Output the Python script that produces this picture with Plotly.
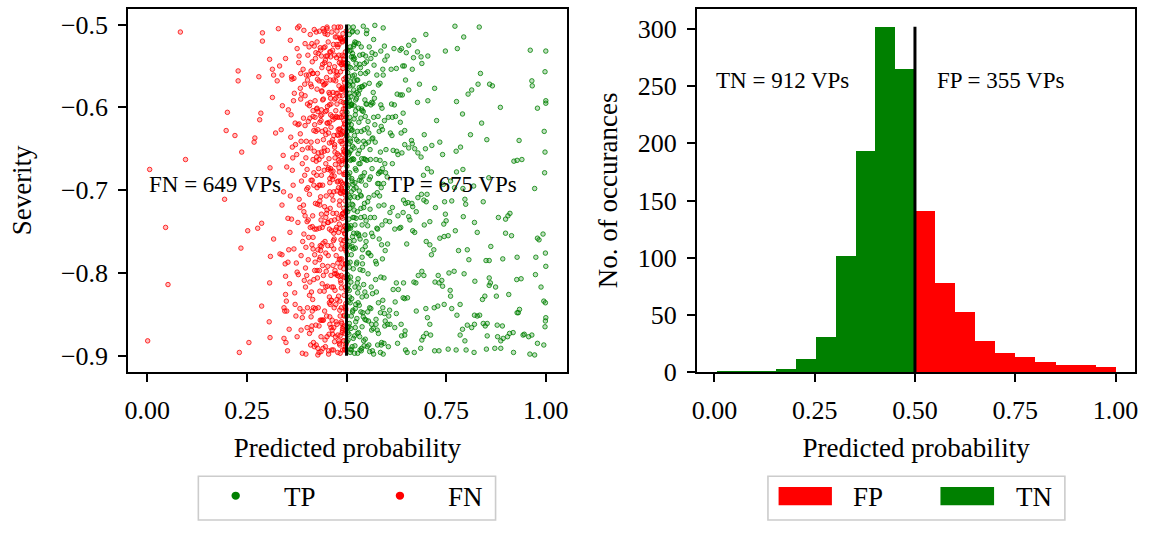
import plotly.graph_objects as go

# ---------------------------------------------------------------------------
# Positive VPs: (predicted probability, |severity|), both in thousandths.
# Severity is plotted as a negative value.
# ---------------------------------------------------------------------------
fn_points_sparse = [
    (6, 675), (1, 882), (83, 509), (96, 663), (46, 745), (52, 814), (228, 556), (228, 568), (280, 563), (201, 606),
    (198, 628), (220, 634), (237, 654), (289, 510), (289, 520), (307, 542), (268, 642), (270, 637), (285, 607), (282, 615),
    (314, 588), (322, 631), (308, 673), (194, 711), (235, 770), (252, 749), (277, 746), (287, 740), (255, 884), (231, 896),
    (287, 840), (307, 812), (306, 859), (308, 878), (309, 780), (317, 759), (333, 777), (348, 884), (347, 826), (343, 842),
    (350, 846), (347, 804), (353, 787), (338, 778), (329, 505), (332, 550), (314, 554), (317, 561), (326, 568), (338, 561),
]

fn_points_dense = [
    (452, 512), (391, 847), (487, 633), (468, 771), (342, 702), (415, 559), (497, 889), (433, 618), (476, 524), (404, 736),
    (461, 803), (489, 577), (372, 645), (428, 891), (495, 702), (447, 543), (386, 779), (471, 661), (419, 506), (483, 834),
    (437, 729), (499, 611), (356, 868), (409, 594), (464, 857), (492, 749), (425, 682), (451, 505), (381, 538), (478, 896),
    (444, 653), (486, 548), (367, 592), (412, 823), (458, 702), (496, 771), (398, 661), (473, 589), (431, 864), (490, 517),
    (466, 615), (353, 734), (481, 882), (422, 541), (449, 798), (393, 507), (494, 654), (439, 569), (475, 745), (407, 873),
    (488, 691), (457, 836), (378, 621), (416, 757), (469, 503), (498, 843), (435, 708), (402, 596), (482, 626), (446, 881),
    (362, 563), (491, 728), (427, 806), (470, 537), (453, 675), (389, 854), (499, 581), (441, 764), (411, 642), (479, 503),
    (455, 894), (493, 616), (346, 789), (418, 679), (484, 542), (463, 817), (396, 731), (438, 552), (497, 768), (426, 601),
    (474, 859), (384, 577), (487, 697), (448, 633), (359, 519), (432, 746), (495, 893), (460, 589), (408, 811), (480, 664),
    (443, 528), (498, 725), (371, 838), (421, 612), (467, 761), (490, 586), (400, 699), (456, 874), (485, 503), (429, 655),
    (477, 803), (336, 627), (492, 547), (413, 766), (451, 619), (488, 861), (395, 572), (466, 712), (436, 895), (496, 639),
    (459, 557), (383, 721), (482, 784), (424, 509), (470, 648), (499, 821), (442, 590), (364, 676), (489, 729), (417, 842),
    (434, 781), (494, 663), (403, 537), (472, 877), (450, 604), (376, 799), (486, 518), (439, 745), (463, 683), (492, 882),
    (420, 621), (481, 574), (352, 894), (457, 829), (497, 706), (410, 649), (446, 511), (484, 793), (392, 613), (468, 556),
    (491, 657), (445, 846), (369, 583), (427, 717), (479, 627), (499, 508), (416, 771), (458, 686), (437, 538), (486, 812),
    (398, 898), (473, 604), (495, 752), (431, 663), (454, 521), (341, 658), (488, 699), (412, 575), (467, 893), (482, 741),
    (448, 776), (497, 547), (387, 689), (462, 833), (425, 602), (490, 629), (358, 751), (476, 515), (440, 857), (493, 795),
    (406, 527), (484, 876), (452, 652), (379, 802), (498, 594), (433, 713), (470, 551), (419, 889), (489, 664), (461, 737),
    (444, 508), (396, 622), (478, 788), (494, 852), (423, 534), (465, 687), (349, 834), (487, 612), (437, 768), (499, 703),
    (456, 582), (414, 744), (483, 666), (368, 565), (471, 821), (492, 546), (428, 899), (447, 627), (400, 803), (480, 697),
    (496, 753), (438, 581), (461, 866), (389, 668), (485, 517), (421, 787), (453, 739), (377, 504), (492, 624), (469, 842),
    (430, 674), (498, 789), (411, 556), (474, 611), (343, 879), (458, 533), (487, 732), (402, 842), (449, 707), (495, 570),
    (466, 791), (384, 632), (490, 870), (426, 521), (477, 656), (439, 813), (497, 601), (362, 735), (455, 553), (482, 885),
    (418, 694), (493, 722), (445, 572), (371, 619), (481, 804), (460, 674), (399, 561), (489, 537), (434, 857), (472, 748),
    (499, 664), (452, 816), (407, 598), (486, 771), (424, 887), (463, 509), (338, 718), (494, 851), (442, 639), (478, 583),
    (415, 832), (484, 641), (457, 597), (393, 753), (496, 519), (436, 736), (470, 883), (380, 546), (491, 693), (448, 668),
    (475, 540), (428, 605), (497, 817), (365, 661), (462, 749), (409, 512), (488, 578), (441, 891), (483, 713), (455, 631),
    (401, 675), (492, 865), (467, 567), (432, 784), (354, 603), (480, 828), (420, 747), (498, 656), (446, 527), (386, 869),
    (489, 606), (459, 722), (413, 864), (476, 508), (440, 694), (495, 743), (374, 788), (465, 639), (427, 559), (484, 897),
    (450, 852), (396, 523), (493, 681), (437, 603), (471, 797), (422, 716), (499, 549), (360, 636), (486, 760), (458, 584),
    (479, 634), (433, 822), (490, 520), (405, 757), (464, 869), (385, 590), (496, 713), (445, 546), (418, 808), (481, 673),
    (468, 702), (497, 598), (425, 660), (347, 541), (487, 842), (453, 767), (410, 887), (474, 583), (439, 629), (494, 805),
    (392, 718), (460, 539), (483, 746), (431, 896), (499, 633), (448, 571), (370, 824), (477, 690), (416, 604), (490, 867),
    (443, 741), (485, 516), (402, 567), (469, 683), (495, 864), (426, 797), (457, 618), (381, 711), (491, 553), (436, 877),
    (498, 726), (451, 503), (414, 688), (482, 612), (363, 566), (473, 838), (435, 773), (492, 651), (397, 817), (461, 596),
    (488, 783), (429, 535), (466, 728), (389, 897), (496, 681), (444, 649), (474, 562), (408, 613), (484, 852), (355, 772),
    (457, 643), (493, 761), (420, 797), (478, 527), (438, 580), (499, 886), (403, 649), (467, 817), (376, 529), (486, 704),
    (427, 566), (482, 678), (454, 779), (391, 554), (497, 533), (442, 857), (471, 613), (415, 731), (489, 644), (463, 893),
    (435, 610), (494, 827), (461, 677), (339, 598), (480, 751), (449, 538), (404, 784), (490, 576), (424, 665), (476, 862),
    (496, 621), (445, 720), (383, 843), (470, 590), (432, 508), (485, 809), (418, 628), (458, 862), (499, 692), (366, 694),
    (474, 779), (410, 572), (488, 641), (452, 599), (393, 726), (493, 882), (437, 654), (465, 531), (381, 620), (482, 718),
    (447, 889), (498, 564), (422, 843), (468, 752), (359, 707), (486, 593), (434, 528), (477, 633), (401, 866), (491, 789),
    (463, 706), (428, 627), (495, 653), (387, 584), (457, 548), (483, 887), (440, 791), (414, 545), (472, 669), (499, 774),
    (450, 564), (490, 734), (398, 769), (476, 832), (431, 694), (345, 846), (485, 557), (460, 609), (419, 653), (496, 892),
    (481, 524), (437, 857), (468, 634), (407, 705), (492, 609), (454, 739), (375, 657), (487, 803), (426, 578), (473, 568),
    (498, 845), (444, 676), (413, 523), (479, 689), (390, 762), (465, 874), (436, 616), (493, 566), (453, 792), (361, 609),
    (471, 654), (425, 747), (489, 701), (448, 817), (399, 641), (494, 538), (459, 567), (417, 884), (484, 627), (440, 548),
    (462, 833), (496, 679), (381, 502), (434, 767), (476, 596), (411, 688), (487, 859), (451, 724), (368, 771), (492, 602),
    (429, 842), (483, 586), (456, 662), (497, 789), (404, 617), (470, 736), (441, 505), (488, 548), (394, 809), (466, 582),
    (499, 746), (447, 605), (416, 559), (478, 875), (433, 718), (491, 631), (458, 853), (376, 877), (485, 689), (420, 778),
    (472, 515), (438, 659), (495, 873), (407, 827), (464, 611), (386, 641), (489, 765), (451, 877), (482, 546), (426, 697),
    (457, 747), (497, 648), (442, 803), (412, 869), (475, 728), (350, 672), (490, 521), (461, 624), (396, 586), (484, 783),
    (435, 531), (493, 702), (468, 866), (423, 629), (481, 658), (446, 762), (498, 576), (403, 697), (455, 898), (479, 734),
    (389, 651), (487, 818), (452, 538), (416, 611), (470, 801), (496, 744), (431, 568), (463, 642), (373, 852), (492, 594),
    (444, 822), (484, 703), (409, 745), (475, 557), (498, 837), (438, 609), (460, 533), (395, 682), (489, 872), (427, 641),
    (466, 677), (493, 542), (421, 592), (450, 728), (357, 813), (486, 632), (432, 797), (477, 612), (499, 759), (405, 561),
    (483, 845), (443, 573), (497, 665), (414, 846), (458, 691), (378, 739), (491, 728), (467, 524), (428, 772), (474, 801),
    (453, 619), (490, 893), (401, 738), (437, 682), (481, 537), (462, 767), (495, 619), (419, 526), (470, 645), (385, 559),
    (496, 841), (448, 733), (476, 701), (411, 853), (488, 669), (440, 591), (364, 648), (459, 838), (492, 579), (423, 863),
    (478, 561), (434, 694), (499, 806), (455, 673), (397, 794), (486, 578), (469, 759), (416, 663), (491, 511),
]

tp_points_sparse = [
    (772, 502), (833, 503), (699, 512), (794, 515), (961, 531), (1000, 532), (748, 532), (778, 529), (998, 557), (836, 559),
    (965, 568), (966, 574), (830, 572), (859, 572), (866, 574), (721, 577), (683, 572), (814, 579), (805, 584), (886, 600),
    (776, 593), (1000, 592), (1000, 595), (979, 601), (704, 592), (678, 594), (791, 608), (726, 616), (839, 619), (811, 633),
    (852, 639), (933, 640), (996, 629), (998, 654), (997, 679), (920, 665), (928, 664), (940, 663), (775, 653), (786, 648),
    (734, 642), (741, 657), (714, 646), (695, 633), (792, 675), (776, 678), (857, 685), (819, 695), (972, 698),
    (656, 525), (669, 519), (678, 533), (668, 540), (687, 539), (689, 547), (704, 538), (665, 554), (648, 567), (656, 579),
    (635, 585), (627, 584), (640, 585), (612, 554), (625, 553), (641, 550), (645, 550), (619, 529), (634, 531), (638, 529),
    (650, 534), (602, 538), (613, 596), (620, 597), (642, 607), (623, 611), (615, 612), (605, 612), (635, 618), (646, 628),
    (637, 631), (610, 631), (614, 634), (663, 640), (665, 644), (671, 650), (656, 649), (698, 650), (646, 645), (639, 655),
    (629, 657), (626, 653), (617, 652), (679, 655), (687, 660), (703, 674), (713, 678), (693, 682), (615, 668), (596, 668),
    (590, 674), (586, 678), (602, 684), (580, 680), (771, 697), (792, 698), (743, 693), (761, 689),
    (643, 712), (654, 715), (664, 716), (679, 709), (694, 712), (700, 714), (702, 705), (688, 705), (675, 726), (666, 720),
    (656, 732), (659, 736), (666, 749), (671, 751), (629, 731), (615, 721), (609, 727), (642, 727), (648, 716), (633, 746),
    (636, 745), (621, 747), (608, 738), (603, 765), (651, 765), (700, 762), (709, 766), (695, 742), (709, 738), (723, 721),
    (744, 741), (748, 729), (750, 737), (734, 758), (755, 755), (773, 749), (745, 756), (797, 711), (799, 717), (793, 732),
    (764, 713), (746, 714), (719, 772), (713, 778), (781, 773), (803, 772), (807, 784), (821, 739), (828, 751), (843, 714),
    (862, 768), (850, 785), (858, 785), (881, 733), (899, 735), (905, 731), (910, 728), (899, 752), (914, 755), (892, 783),
    (928, 781), (975, 781), (979, 758), (983, 760), (993, 753), (999, 776), (1000, 792), (974, 802), (927, 808), (938, 807),
    (988, 817), (995, 834), (999, 836), (1000, 854), (999, 858), (998, 865), (995, 887), (972, 899), (960, 898), (979, 885),
    (965, 875), (957, 877), (946, 874), (943, 875), (934, 844), (931, 848), (928, 848), (918, 872), (909, 873), (904, 877),
    (893, 879), (887, 882), (879, 877), (872, 891), (887, 891), (919, 896), (891, 864), (878, 863), (853, 876), (853, 861),
    (843, 861), (848, 864), (828, 852), (821, 851), (834, 851), (851, 892), (820, 896), (800, 893), (775, 893), (755, 892),
    (732, 894), (721, 894), (797, 882), (791, 868), (785, 875), (803, 863), (814, 866), (821, 862), (841, 832), (847, 828),
    (858, 815), (861, 812), (858, 806), (874, 817), (876, 828), (907, 826), (822, 810), (795, 801), (770, 798), (757, 800),
    (739, 809), (732, 812), (722, 811), (741, 816), (761, 828), (760, 821), (785, 838), (777, 851), (764, 843), (745, 838),
    (729, 840), (720, 842), (699, 843), (703, 854), (709, 862), (700, 873), (711, 875), (693, 877), (689, 881), (686, 891),
    (675, 846), (674, 812), (680, 803), (689, 798), (694, 803), (730, 803), (669, 811), (643, 812), (642, 830), (646, 831),
    (653, 830), (625, 812), (630, 820), (617, 820), (622, 835), (625, 849), (637, 862), (647, 870), (646, 875), (638, 876),
    (621, 866), (628, 885), (652, 896), (670, 896), (648, 893), (605, 889), (594, 885), (585, 896), (592, 898), (568, 898),
    (574, 862), (580, 873), (603, 862), (609, 862), (606, 852), (595, 849), (608, 845), (591, 842),
]

tp_points_dense = [
    (507, 617), (522, 843), (548, 559), (503, 726), (581, 692), (515, 508), (539, 781), (596, 864), (511, 652), (564, 534),
    (528, 897), (504, 589), (553, 714), (519, 761), (587, 623), (509, 836), (542, 502), (573, 808), (501, 671), (533, 579),
    (516, 733), (559, 651), (506, 874), (524, 547), (592, 561), (537, 689), (502, 802), (578, 747), (513, 596), (546, 856),
    (521, 521), (505, 744), (567, 582), (531, 818), (510, 664), (588, 884), (544, 627), (518, 699), (503, 558), (556, 776),
    (512, 893), (538, 602), (583, 707), (507, 512), (526, 787), (561, 843), (501, 634), (549, 737), (519, 568), (595, 526),
    (504, 815), (534, 668), (517, 542), (571, 621), (508, 762), (552, 889), (525, 589), (590, 783), (514, 717), (541, 536),
    (529, 641), (502, 531), (563, 752), (520, 876), (545, 573), (585, 654), (510, 805), (536, 722), (506, 599), (577, 869),
    (515, 562), (550, 828), (503, 681), (523, 604), (598, 737), (509, 896), (540, 648), (568, 518), (517, 795), (532, 701),
    (506, 746), (527, 509), (580, 836), (513, 628), (557, 687), (501, 852), (535, 559), (519, 733), (589, 601), (543, 882),
    (522, 674), (508, 583), (565, 894), (530, 753), (511, 531), (547, 611), (594, 718), (504, 806), (539, 865), (572, 642),
    (518, 526), (502, 697), (554, 776), (526, 855), (584, 571), (509, 638), (533, 548), (560, 684), (514, 889), (541, 797),
    (505, 713), (537, 629), (576, 746), (521, 584), (507, 821), (551, 507), (516, 662), (597, 858), (530, 872), (566, 595),
    (512, 778), (545, 716), (503, 547), (525, 639), (586, 805), (510, 569), (538, 891), (574, 663), (519, 724), (555, 642),
    (501, 883), (532, 576), (562, 817), (517, 503), (548, 694), (507, 655), (591, 554), (523, 838), (540, 772), (513, 597),
    (527, 726), (504, 618), (569, 549), (536, 684), (511, 867), (582, 759), (520, 561), (546, 823), (506, 735), (558, 895),
    (515, 647), (542, 605), (502, 778), (530, 523), (579, 611), (509, 709), (553, 847), (524, 676), (593, 692), (516, 845),
    (534, 893), (506, 563), (564, 638), (521, 742), (548, 538), (512, 597), (587, 887), (529, 807), (503, 654), (570, 733),
    (519, 614), (556, 709), (508, 829), (538, 575), (596, 543), (514, 768), (544, 662), (526, 582), (501, 719), (575, 823),
    (531, 755), (505, 503), (561, 597), (522, 866), (583, 678), (510, 641), (549, 762), (517, 539), (536, 847), (563, 869),
    (503, 788), (527, 629), (572, 536), (512, 702), (543, 814), (590, 627), (508, 574), (532, 688), (557, 571), (520, 897),
    (514, 689), (547, 880), (504, 621), (525, 789), (566, 756), (509, 527), (539, 604), (585, 848), (518, 752), (551, 664),
    (536, 613), (507, 861), (578, 692), (523, 553), (545, 732), (501, 594), (561, 779), (529, 836), (513, 663), (592, 504),
    (521, 817), (550, 545), (506, 684), (533, 877), (588, 766), (511, 743), (541, 683), (568, 612), (516, 573), (502, 808),
    (528, 567), (555, 858), (509, 769), (537, 707), (599, 651), (519, 598), (546, 591), (503, 872), (574, 856), (524, 734),
    (510, 626), (540, 789), (582, 629), (515, 847), (552, 625), (506, 551), (531, 668), (565, 825), (520, 708), (544, 888),
    (502, 742), (527, 873), (559, 723), (512, 539), (586, 597), (535, 552), (507, 793), (548, 644), (522, 609), (571, 501),
    (517, 879), (543, 721), (505, 657), (530, 601), (594, 806), (513, 686), (553, 557), (526, 752), (560, 663), (508, 532),
    (534, 796), (501, 606), (567, 867), (519, 649), (547, 768), (510, 892), (580, 573), (524, 522), (539, 742), (504, 694),
    (523, 591), (556, 631), (508, 722), (532, 839), (577, 703), (515, 535), (542, 853), (597, 773), (511, 811), (549, 596),
    (506, 865), (529, 656), (563, 594), (518, 579), (589, 742), (502, 767), (537, 527), (554, 801), (514, 627), (528, 709),
    (543, 641), (509, 598), (575, 789), (521, 691), (550, 511), (505, 834), (534, 759), (584, 664), (516, 718), (561, 541),
    (503, 629), (526, 567), (558, 842), (512, 852), (545, 679), (595, 616), (508, 679), (537, 894), (520, 541), (569, 706),
    (531, 618), (504, 881), (553, 743), (517, 771), (578, 887), (510, 552), (540, 575), (523, 859), (564, 674), (507, 707),
    (514, 509), (547, 663), (501, 748), (536, 733), (586, 532), (520, 634), (556, 887), (511, 587), (528, 824), (573, 786),
    (509, 787), (541, 848), (566, 637), (524, 697), (502, 866), (551, 596), (518, 663), (591, 833), (533, 537), (505, 572),
    (527, 812), (512, 621), (557, 527), (538, 662), (581, 719), (506, 644), (546, 754), (521, 888), (570, 589), (515, 756),
    (535, 706), (503, 819), (563, 862), (519, 524), (549, 857), (508, 612), (587, 697), (530, 584), (513, 831), (545, 547),
    (522, 770), (554, 617), (507, 592), (539, 829), (598, 679), (516, 693), (532, 652), (576, 561), (510, 746), (560, 733),
]

# Negative VPs: histogram counts of predicted probability (10 bins each side)
tn_counts = [1, 1, 1, 3, 12, 31, 102, 194, 302, 265]
fp_counts = [141, 78, 53, 27, 17, 13, 9, 6, 6, 5]
tn_bin_range = (0.006, 0.5)
fp_bin_range = (0.5, 1.0)

threshold = 0.5
prob_ticks = [0.0, 0.25, 0.5, 0.75, 1.0]
sev_ticks = [-0.9, -0.8, -0.7, -0.6, -0.5]
count_ticks = [0, 50, 100, 150, 200, 250, 300]

# ---------------------------------------------------------------------------
RED = "#ff0000"
GREEN = "#008000"
FONT = "'Liberation Serif', 'Times New Roman', serif"
W, H = 1151, 536


def fx(px):
    return px / W


def fy(py):
    return 1 - py / H


def split(points):
    prob = [p / 1000 for p, s in points]
    sev = [-s / 1000 for p, s in points]
    return prob, sev


def bins(lo, hi, counts):
    step = (hi - lo) / len(counts)
    mids = [lo + step * (i + 0.5) for i in range(len(counts))]
    return mids, step


fn_points = fn_points_sparse + fn_points_dense
tp_points = tp_points_sparse + tp_points_dense
fn_prob, fn_sev = split(fn_points)
tp_prob, tp_sev = split(tp_points)
tn_mid, tn_w = bins(*tn_bin_range, tn_counts)
fp_mid, fp_w = bins(*fp_bin_range, fp_counts)

fig = go.Figure()

fig.add_trace(go.Scatter(
    x=fn_prob, y=fn_sev, mode="markers", name="FN", showlegend=False,
    marker=dict(symbol="circle", size=4.5, color="rgba(255,0,0,0.25)",
                line=dict(color=RED, width=0.8)),
    xaxis="x", yaxis="y"))
fig.add_trace(go.Scatter(
    x=tp_prob, y=tp_sev, mode="markers", name="TP", showlegend=False,
    marker=dict(symbol="circle", size=4.5, color="rgba(0,128,0,0.25)",
                line=dict(color=GREEN, width=0.8)),
    xaxis="x", yaxis="y"))

fig.add_trace(go.Bar(
    x=tn_mid, y=tn_counts, width=tn_w, name="TN", showlegend=False,
    marker=dict(color=GREEN, line=dict(width=0)), xaxis="x2", yaxis="y2"))
fig.add_trace(go.Bar(
    x=fp_mid, y=fp_counts, width=fp_w, name="FP", showlegend=False,
    marker=dict(color=RED, line=dict(width=0)), xaxis="x2", yaxis="y2"))

axis_common = dict(
    showline=True, mirror=True, linecolor="black", linewidth=1.6,
    ticks="outside", ticklen=8, tickwidth=1.6, tickcolor="black",
    showgrid=False, zeroline=False,
    tickfont=dict(family=FONT, size=26, color="black"),
)
title_font = dict(family=FONT, size=27, color="black")

shapes = [
    # decision threshold
    dict(type="line", xref="x", yref="y", x0=threshold, x1=threshold,
         y0=min(sev_ticks), y1=max(sev_ticks), line=dict(color="black", width=3)),
    dict(type="line", xref="x2", yref="y2", x0=threshold, x1=threshold,
         y0=0, y1=max(tn_counts), line=dict(color="black", width=3)),
    # legend frames
    dict(type="rect", xref="paper", yref="paper", x0=fx(194.7), x1=fx(494),
         y0=fy(535), y1=fy(490), line=dict(color="#cccccc", width=1.6), fillcolor="white"),
    dict(type="rect", xref="paper", yref="paper", x0=fx(768.3), x1=fx(1067.3),
         y0=fy(535), y1=fy(490), line=dict(color="#cccccc", width=1.6), fillcolor="white"),
    # legend symbols
    dict(type="circle", xref="paper", yref="paper", x0=fx(228.1), x1=fx(236.5),
         y0=fy(514.2), y1=fy(505.8), line=dict(width=0), fillcolor=GREEN),
    dict(type="circle", xref="paper", yref="paper", x0=fx(393.5), x1=fx(401.9),
         y0=fy(514.2), y1=fy(505.8), line=dict(width=0), fillcolor=RED),
    dict(type="rect", xref="paper", yref="paper", x0=fx(779), x1=fx(832.7),
         y0=fy(519.7), y1=fy(501), line=dict(width=0), fillcolor=RED),
    dict(type="rect", xref="paper", yref="paper", x0=fx(942), x1=fx(996),
         y0=fy(519.7), y1=fy(501), line=dict(width=0), fillcolor=GREEN),
]

ann_font = dict(family=FONT, size=23, color="black")
leg_font = dict(family=FONT, size=27, color="black")
annotations = [
    dict(xref="x", yref="y", x=0.0, y=-0.7, xanchor="left", yanchor="bottom", yshift=-9,
         text=f"FN = {len(fn_points)} VPs", showarrow=False, font=ann_font),
    dict(xref="x", yref="y", x=0.6, y=-0.7, xanchor="left", yanchor="bottom", yshift=-9,
         text=f"TP = {len(tp_points)} VPs", showarrow=False, font=ann_font),
    dict(xref="x2", yref="y2", x=0.0, y=250, xanchor="left", yanchor="bottom", yshift=-9,
         text=f"TN = {sum(tn_counts)} VPs", showarrow=False, font=ann_font),
    dict(xref="x2", yref="y2", x=0.55, y=250, xanchor="left", yanchor="bottom", yshift=-9,
         text=f"FP = {sum(fp_counts)} VPs", showarrow=False, font=ann_font),
    dict(xref="paper", yref="paper", x=fx(279), y=fy(511), xanchor="left", yanchor="middle",
         text="TP", showarrow=False, font=leg_font),
    dict(xref="paper", yref="paper", x=fx(444), y=fy(511), xanchor="left", yanchor="middle",
         text="FN", showarrow=False, font=leg_font),
    dict(xref="paper", yref="paper", x=fx(852), y=fy(511), xanchor="left", yanchor="middle",
         text="FP", showarrow=False, font=leg_font),
    dict(xref="paper", yref="paper", x=fx(1016), y=fy(511), xanchor="left", yanchor="middle",
         text="TN", showarrow=False, font=leg_font),
]

fig.update_layout(
    width=W, height=H,
    margin=dict(l=0, r=0, t=0, b=0),
    paper_bgcolor="white", plot_bgcolor="white",
    font=dict(family=FONT, color="black"),
    showlegend=False,
    xaxis=dict(axis_common, domain=[fx(124), fx(565.7)], anchor="y",
               range=[-0.048, 1.0526], tickvals=prob_ticks, tickformat=".2f",
               ticklabelstandoff=6,
               title=dict(text="Predicted probability", font=title_font, standoff=14)),
    yaxis=dict(axis_common, domain=[fy(382.7), fy(9)], anchor="x",
               range=[-0.9196, -0.4809], tickvals=sev_ticks, tickformat=".1f",
               ticklabelstandoff=5,
               title=dict(text="Severity", font=title_font, standoff=22)),
    xaxis2=dict(axis_common, domain=[fx(696.7), fx(1138.3)], anchor="y2",
                range=[-0.0437, 1.0495], tickvals=prob_ticks, tickformat=".2f",
                ticklabelstandoff=6,
                title=dict(text="Predicted probability", font=title_font, standoff=14)),
    yaxis2=dict(axis_common, domain=[fy(382.7), fy(9)], anchor="x2",
                range=[0, 317.8], tickvals=count_ticks,
                ticklabelstandoff=5,
                title=dict(text="No. of occurances", font=title_font, standoff=12)),
    shapes=shapes,
    annotations=annotations,
    bargap=0,
)

fig.write_html("out.html")
